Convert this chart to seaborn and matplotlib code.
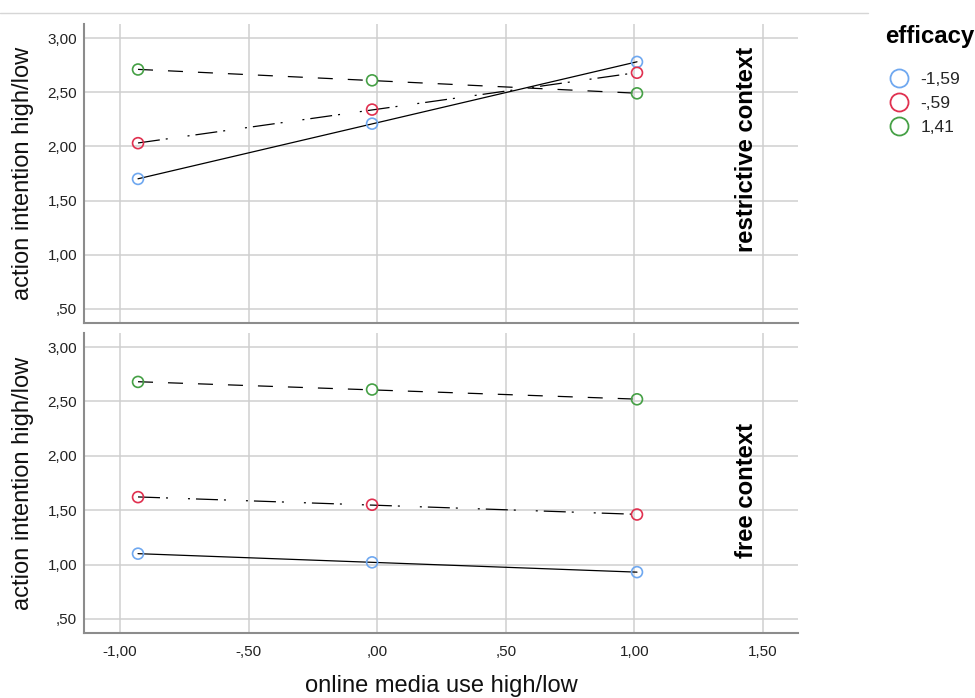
import numpy as np
import pandas as pd
import matplotlib
matplotlib.use('Agg')
import matplotlib.pyplot as plt
from matplotlib.lines import Line2D
import seaborn as sns

sns.set_theme(style='whitegrid')
plt.rcParams['font.family'] = ['Liberation Sans', 'DejaVu Sans']

# data
media_use = [-0.93, -0.02, 1.01]
efficacy_levels = ['-1,59', '-,59', '1,41']
contexts = ['restrictive context', 'free context']

restrictive_low = [1.70, 2.21, 2.78]
restrictive_mid = [2.03, 2.34, 2.68]
restrictive_high = [2.71, 2.61, 2.49]

free_low = [1.10, 1.02, 0.93]
free_mid = [1.62, 1.55, 1.46]
free_high = [2.68, 2.61, 2.52]

y_ticks = [0.5, 1.0, 1.5, 2.0, 2.5, 3.0]
y_ticklabels = [',50', '1,00', '1,50', '2,00', '2,50', '3,00']
x_ticks = [-1.0, -0.5, 0.0, 0.5, 1.0, 1.5]
x_ticklabels = ['-1,00', '-,50', ',00', ',50', '1,00', '1,50']

colors = ['#6fa8f0', '#e0304f', '#45a045']
line_styles = ['-', (0, (17.6, 4.8, 1.6, 16, 1.6, 4.8)), (0, (12, 12))]

rows = []
for ctx, series in zip(contexts, [[restrictive_low, restrictive_mid, restrictive_high],
                                   [free_low, free_mid, free_high]]):
    for lev, vals in zip(efficacy_levels, series):
        for x, y in zip(media_use, vals):
            rows.append({'context': ctx, 'efficacy': lev, 'media': x, 'intention': y})
df = pd.DataFrame(rows)

fig = plt.figure(figsize=(9.75, 6.98), dpi=100)
ax_top = fig.add_axes([84/975, 1-323/698, 714/975, 299/698])
ax_bot = fig.add_axes([84/975, 1-633/698, 714/975, 300/698])

for ax, ctx, ty in [(ax_top, contexts[0], 0.579), (ax_bot, contexts[1], 0.475)]:
    sub = df[df['context'] == ctx]
    for lev, col, ls in zip(efficacy_levels, colors, line_styles):
        grp = sub[sub['efficacy'] == lev]
        sns.regplot(data=grp, x='media', y='intention', ax=ax, scatter=False, ci=None,
                    color='black', line_kws=dict(lw=0.9, ls=ls, zorder=2))
        sns.scatterplot(data=grp, x='media', y='intention', ax=ax, s=62, color=col,
                        facecolor='none', edgecolor=col, linewidth=1.2, zorder=3)
    ax.set_xlim(-1.14, 1.636)
    ax.set_ylim(0.37, 3.13)
    ax.set_xticks(x_ticks)
    ax.set_yticks(y_ticks)
    ax.set_yticklabels(y_ticklabels)
    ax.grid(True, color='#cfcfcf', lw=1.1)
    ax.set_facecolor('white')
    for s in ['top', 'right']:
        ax.spines[s].set_visible(False)
    for s in ['left', 'bottom']:
        ax.spines[s].set_color('#8c8c8c')
        ax.spines[s].set_linewidth(1.5)
    ax.tick_params(axis='both', length=0, labelsize=11, colors='#222222')
    ax.tick_params(axis='y', pad=5)
    ax.tick_params(axis='x', pad=9)
    ax.set_ylabel('action intention high/low', fontsize=17, labelpad=10, color='#111111')
    ax.text(0.928, ty, ctx, transform=ax.transAxes, rotation=90, ha='center', va='center',
            fontsize=17.2, fontweight='bold', color='black')

ax_top.set_xticklabels([])
ax_top.set_xlabel('')
ax_bot.set_xticklabels(x_ticklabels)
ax_bot.set_xlabel('online media use high/low', fontsize=17, labelpad=11, color='#111111')

fig.add_artist(Line2D([0, 868/975], [1-13/698, 1-13/698], transform=fig.transFigure,
                      color='#d6d6d6', lw=1))

fig.text(885/975, 1-36/698, 'efficacy', ha='left', va='center', fontsize=17.3,
         fontweight='bold', color='black')
handles = [Line2D([], [], ls='none', marker='o', markersize=13, markerfacecolor='none',
                  markeredgecolor=c, markeredgewidth=1.3) for c in colors]
fig.legend(handles, efficacy_levels, loc='upper left',
           bbox_to_anchor=(890/975, 1-72/698), frameon=False, fontsize=12.5,
           handletextpad=0.75, labelspacing=0.5, handlelength=1.0, borderpad=0.0,
           borderaxespad=0.0)

fig.savefig('out.png', dpi=100)
